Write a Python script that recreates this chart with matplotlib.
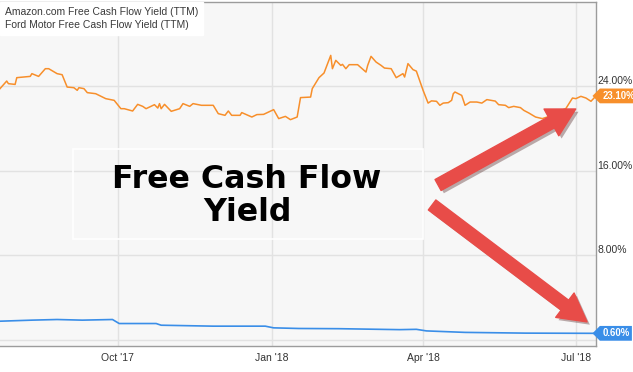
"""
Free cash flow yield: Amazon vs Ford (TTM), Jul 2017 - Jul 2018.
"""

import pandas as pd
import matplotlib
matplotlib.use('Agg')
import matplotlib.pyplot as plt
import matplotlib.dates as mdates
import matplotlib.patheffects as pe
from matplotlib.patches import Rectangle
from matplotlib.path import Path
from matplotlib.ticker import FuncFormatter

# Ford Motor FCF yield (%)
ford_dates = [
    "2017-07-23", "2017-07-27", "2017-07-28", "2017-08-01", "2017-08-02", "2017-08-10",
    "2017-08-11", "2017-08-15", "2017-08-19", "2017-08-21", "2017-08-26", "2017-08-29",
    "2017-09-01", "2017-09-05", "2017-09-07", "2017-09-08", "2017-09-11", "2017-09-13",
    "2017-09-18", "2017-09-24", "2017-09-29", "2017-10-03", "2017-10-05", "2017-10-10",
    "2017-10-13", "2017-10-16", "2017-10-18", "2017-10-23", "2017-10-25", "2017-10-26",
    "2017-10-27", "2017-10-29", "2017-11-02", "2017-11-07", "2017-11-09", "2017-11-13",
    "2017-11-15", "2017-11-20", "2017-11-27", "2017-11-30", "2017-12-04", "2017-12-06",
    "2017-12-08", "2017-12-13", "2017-12-14", "2017-12-20", "2017-12-23", "2017-12-27",
    "2018-01-02", "2018-01-05", "2018-01-09", "2018-01-12", "2018-01-16", "2018-01-18",
    "2018-01-24", "2018-01-25", "2018-01-29", "2018-02-01", "2018-02-05", "2018-02-06",
    "2018-02-08", "2018-02-11", "2018-02-12", "2018-02-14", "2018-02-16", "2018-02-21",
    "2018-02-26", "2018-02-27", "2018-03-01", "2018-03-04", "2018-03-07", "2018-03-09",
    "2018-03-13", "2018-03-16", "2018-03-20", "2018-03-21", "2018-03-23", "2018-03-26",
    "2018-03-28", "2018-04-01", "2018-04-04", "2018-04-06", "2018-04-09", "2018-04-11",
    "2018-04-13", "2018-04-16", "2018-04-18", "2018-04-19", "2018-04-20", "2018-04-24",
    "2018-04-26", "2018-04-29", "2018-05-03", "2018-05-06", "2018-05-09", "2018-05-14",
    "2018-05-16", "2018-05-20", "2018-05-22", "2018-05-25", "2018-05-29", "2018-05-31",
    "2018-06-03", "2018-06-07", "2018-06-11", "2018-06-14", "2018-06-21", "2018-06-25",
    "2018-06-29", "2018-07-01", "2018-07-04", "2018-07-07", "2018-07-10", "2018-07-13",
]
ford_values = [
    23.79, 24.51, 24.26, 24.19, 24.83, 24.95, 25.21, 24.95, 25.68, 25.68, 25.21, 25.11,
    23.94, 23.88, 23.63, 23.88, 23.79, 23.41, 23.31, 22.84, 22.68, 21.89, 21.89, 21.67,
    22.30, 22.11, 21.89, 22.27, 21.95, 22.37, 21.89, 22.30, 21.64, 21.89, 22.37, 22.11,
    22.37, 22.21, 22.21, 21.42, 21.26, 21.67, 21.26, 21.26, 21.52, 21.10, 21.33, 21.35,
    21.80, 20.95, 21.16, 20.85, 21.10, 22.94, 22.99, 23.79, 24.83, 25.27, 26.94, 25.68,
    26.47, 25.99, 26.09, 25.68, 26.06, 26.06, 25.36, 25.99, 26.85, 26.31, 25.99, 25.74,
    25.68, 24.83, 25.21, 24.89, 26.16, 25.59, 25.45, 23.63, 22.42, 22.63, 22.59, 22.21,
    22.42, 22.46, 22.68, 23.31, 23.47, 23.15, 22.21, 22.52, 22.52, 22.42, 22.75, 22.61,
    22.27, 22.21, 21.99, 22.11, 21.99, 21.73, 21.48, 21.10, 20.95, 21.10, 21.67, 21.89,
    22.90, 22.84, 23.06, 22.90, 22.59, 23.10,
]

# Amazon.com FCF yield (%)
amzn_dates = [
    "2017-07-23", "2017-08-11", "2017-08-26", "2017-09-10", "2017-09-28", "2017-10-02",
    "2017-10-24", "2017-10-27", "2017-11-27", "2017-12-28", "2018-01-02", "2018-01-17",
    "2018-02-10", "2018-03-18", "2018-03-28", "2018-04-03", "2018-04-26", "2018-06-01",
    "2018-07-13",
]
amzn_values = [
    1.75, 1.85, 1.91, 1.85, 1.91, 1.53, 1.53, 1.37, 1.28, 1.28, 1.12, 1.06,
    1.04, 0.95, 0.98, 0.83, 0.69, 0.62, 0.60,
]

y_ticks = [0, 8, 16, 24]
x_ticks = ["2017-10-01", "2018-01-01", "2018-04-01", "2018-07-01"]

orange = '#f78f2b'
blue = '#3a8ee8'
red = '#e84c48'


def tag_box(x0, y0, width, height, mutation_size):
    """Label box with a pointed left side."""
    pad = 0.25 * mutation_size
    x0, y0 = x0 - pad, y0 - pad
    x1, y1 = x0 + width + 2 * pad, y0 + height + 2 * pad
    tip = (y1 - y0) / 2
    verts = [(x0, y0), (x1, y0), (x1, y1), (x0, y1), (x0 - tip, (y0 + y1) / 2), (x0, y0)]
    return Path(verts, closed=True)


fig = plt.figure(figsize=(6.33, 3.72), dpi=100)
ax = fig.add_axes([0.0, 26 / 372, 596 / 633, 344 / 372])
ax.set_facecolor('#f7f7f7')

amzn_x = pd.to_datetime(amzn_dates)
ford_x = pd.to_datetime(ford_dates)
ax.plot(amzn_x, amzn_values, color=blue, lw=1.2, label='Amazon.com Free Cash Flow Yield (TTM)')
ax.plot(ford_x, ford_values, color=orange, lw=1.1, label='Ford Motor Free Cash Flow Yield (TTM)')

ax.set_xlim(pd.Timestamp("2017-07-23"), pd.Timestamp("2018-07-13"))
ax.set_ylim(-0.6, 32)

# axes / grid
ax.set_xticks(pd.to_datetime(x_ticks))
ax.xaxis.set_major_formatter(mdates.DateFormatter("%b '%y"))
ax.set_yticks(y_ticks)
ax.yaxis.set_major_formatter(FuncFormatter(lambda v, p: '' if v == 0 else f'{v:.2f}%'))
ax.yaxis.tick_right()
ax.tick_params(axis='both', length=0, labelsize=7.5, labelcolor='#333333', labelfontfamily='Liberation Sans')
ax.tick_params(axis='x', pad=5)
ax.tick_params(axis='y', pad=1)
for lab in ax.get_yticklabels():
    lab.set_va('bottom')
ax.grid(True, color='#e2e2e2', lw=1)
ax.set_axisbelow(True)
ax.spines['left'].set_visible(False)
for s in ['top', 'right', 'bottom']:
    ax.spines[s].set_color('#9c9c9c')
    ax.spines[s].set_linewidth(1)

leg = ax.legend(loc='upper left', handlelength=0, handletextpad=0, borderaxespad=0,
                fancybox=False, framealpha=1, edgecolor='white', borderpad=0.45,
                labelspacing=0.35, prop={'family': 'Liberation Sans', 'size': 7.45})
for h in leg.legend_handles:
    h.set_visible(False)
for t in leg.get_texts():
    t.set_color('#3a3a3a')

# end-of-series value tags
ytrans = ax.get_yaxis_transform()
for val, col in [(ford_values[-1], orange), (amzn_values[-1], blue)]:
    ax.annotate(f'{val:.2f}%', xy=(1, val), xycoords=ytrans, xytext=(4.5, 0),
                textcoords='offset points', ha='left', va='center', color='white',
                fontsize=6.9, fontweight='bold', family='Liberation Sans',
                bbox=dict(boxstyle=tag_box, fc=col, ec='none'), annotation_clip=False)

# callout box
ax.add_patch(Rectangle((73 / 596, 107 / 344), 350 / 596, 90 / 344, transform=ax.transAxes,
                       fc='none', ec='white', lw=1.2, zorder=4))
ax.text(247 / 596, 150 / 344, 'Free Cash Flow\nYield', transform=ax.transAxes,
        ha='center', va='center', fontsize=22.8, fontweight='bold', color='black',
        linespacing=1.12, zorder=5)

# red arrows
shadow = [pe.SimplePatchShadow(offset=(2, -2), alpha=0.35), pe.Normal()]
arrows = [((0.735, 0.468), (0.966, 0.689)), ((0.725, 0.410), (0.985, 0.070))]
for tail, tip in arrows:
    ann = ax.annotate('', xy=tip, xycoords='axes fraction', xytext=tail, textcoords='axes fraction',
                      arrowprops=dict(arrowstyle='simple,head_width=1.1,head_length=1.0,tail_width=0.45',
                                      color=red, mutation_scale=20, shrinkA=0, shrinkB=0,
                                      joinstyle='round'))
    ann.arrow_patch.set_path_effects(shadow)

plt.savefig('out.png', dpi=100)
plt.close()
